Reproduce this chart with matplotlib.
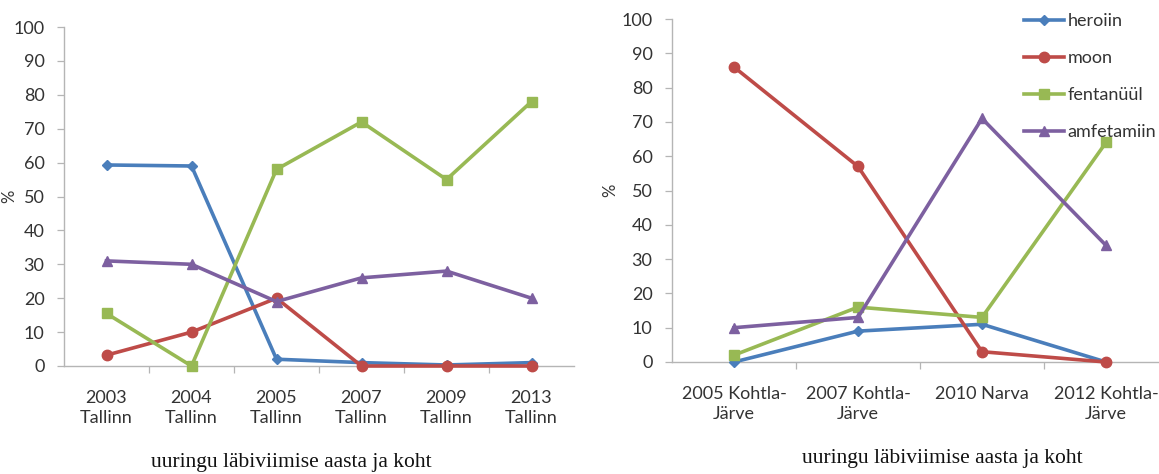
import matplotlib
matplotlib.use("Agg")
import matplotlib.pyplot as plt

# Survey categories (year and place)
tallinn_cats = ["2003\nTallinn", "2004\nTallinn", "2005\nTallinn",
                "2007\nTallinn", "2009\nTallinn", "2013\nTallinn"]
ida_cats = ["2005 Kohtla-\nJärve", "2007 Kohtla-\nJärve", "2010 Narva",
            "2012 Kohtla-\nJärve"]

series_names = ["heroiin", "moon", "fentanüül", "amfetamiin"]

# Tallinn surveys, %
tallinn_heroiin = [59.3, 59, 2, 1, 0.3, 1]
tallinn_moon = [3.2, 10, 20, 0, 0, 0]
tallinn_fentanuul = [15.5, 0, 58, 72, 55, 78]
tallinn_amfetamiin = [31, 30, 19, 26, 28, 20]

# Ida-Virumaa surveys, %
ida_heroiin = [0, 9, 11, 0]
ida_moon = [86, 57, 3, 0]
ida_fentanuul = [2, 16, 13, 64]
ida_amfetamiin = [10, 13, 71, 34]

y_ticks = list(range(0, 101, 10))

colors = ["#4a7ebb", "#be4b48", "#98b954", "#7d60a0"]
markers = ["D", "o", "s", "^"]
msizes = [5.5, 7.5, 7, 7.5]

tick_font = "Lato"
tick_size = 13
axis_gray = "#b5b5b5"
text_col = "#333333"

fig = plt.figure(figsize=(11.59, 4.74), dpi=100)


def draw_panel(rect, cats, data, ylabel_x):
    ax = fig.add_axes(rect)
    x = list(range(len(cats)))
    handles = []
    for vals, name, c, m, ms in zip(data, series_names, colors, markers, msizes):
        h, = ax.plot(x, vals, color=c, lw=2.6, marker=m, ms=ms,
                     markeredgecolor=c, markerfacecolor=c, label=name,
                     clip_on=False, zorder=3)
        handles.append(h)
    ax.set_xlim(-0.5, len(cats) - 0.5)
    ax.set_ylim(0, 100)
    ax.set_yticks(y_ticks)
    ax.set_yticklabels([str(v) for v in y_ticks], fontfamily=tick_font,
                       fontsize=tick_size, color=text_col)
    # category names sit between the boundary tick marks
    ax.set_xticks(x)
    ax.set_xticklabels(cats, fontfamily=tick_font, fontsize=tick_size,
                       color=text_col, linespacing=1.35)
    ax.tick_params(axis="x", which="major", length=0, pad=17)
    ax.set_xticks([i + 0.5 for i in range(len(cats) - 1)], minor=True)
    ax.tick_params(axis="x", which="minor", length=5, width=0.9,
                   color=axis_gray, direction="out")
    ax.tick_params(axis="y", length=5, width=0.9, color=axis_gray,
                   direction="out", pad=9)
    for s in ("top", "right"):
        ax.spines[s].set_visible(False)
    for s in ("left", "bottom"):
        ax.spines[s].set_color(axis_gray)
        ax.spines[s].set_linewidth(1.0)
    ax.set_ylabel("%", fontfamily=tick_font, fontsize=12, color=text_col)
    ax.yaxis.set_label_coords(ylabel_x, 0.5)
    return ax, handles


ax1, _ = draw_panel([64 / 1159, 108 / 474, 510 / 1159, 339 / 474],
                    tallinn_cats,
                    [tallinn_heroiin, tallinn_moon, tallinn_fentanuul,
                     tallinn_amfetamiin], (17 - 64) / 510)
ax2, handles = draw_panel([672 / 1159, 112 / 474, 496 / 1159, 343 / 474],
                          ida_cats,
                          [ida_heroiin, ida_moon, ida_fentanuul,
                           ida_amfetamiin], (618 - 672) / 496)

fig.legend(handles=handles, loc="upper left",
           bbox_to_anchor=(1024 / 1159, 1 - 13 / 474),
           bbox_transform=fig.transFigure, frameon=False,
           prop={"family": tick_font, "size": tick_size}, handlelength=2.2,
           handletextpad=0.2, labelspacing=1.17, borderpad=0,
           borderaxespad=0, labelcolor=text_col)

fig.text(291 / 1159, 1 - 462 / 474, "uuringu läbiviimise aasta ja koht",
         ha="center", va="center", family="Liberation Serif", fontsize=15.5,
         color="#111111")
fig.text(942 / 1159, 1 - 458 / 474, "uuringu läbiviimise aasta ja koht",
         ha="center", va="center", family="Liberation Serif", fontsize=15.5,
         color="#111111")

fig.savefig("out.png", dpi=100)
